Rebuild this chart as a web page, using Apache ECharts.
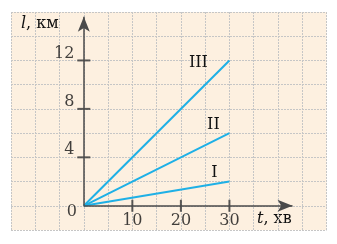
<!DOCTYPE html>
<html><head><meta charset="utf-8">
<script src="https://cdn.jsdelivr.net/npm/echarts@6/dist/echarts.min.js"></script>
<style>html,body{margin:0;padding:0;background:#fff}#c{width:337px;height:244px}</style>
</head><body><div id="c"></div>
<script>
// Data
const times = [0, 30];
const seriesNames = ['I', 'II', 'III'];
const distI = [0, 2];
const distII = [0, 6];
const distIII = [0, 12];
const xTicks = [10, 20, 30];
const yTicks = [4, 8, 12];
const xTickLabels = ['10', '20', '30'];
const yTickLabels = ['4', '8', '12'];
const axisX = [0, 43];
const axisY = [0, 15.6];

const serif = "'DejaVu Serif','Liberation Serif',serif";
const fs = 16;
const textCol = '#111111';
const lineCol = '#1fb0e6';
const axisCol = '#4a4a4a';

function lineSeries(name, vals, off) {
  return {
    type: 'line', name: name, data: times.map((t, i) => [t, vals[i]]),
    symbol: 'none', lineStyle: { color: lineCol, width: 2 }, z: 3,
    endLabel: { show: true, formatter: name, color: textCol, fontFamily: serif, fontSize: fs,
      align: 'center', verticalAlign: 'middle', distance: 0, offset: off }
  };
}

const chart = echarts.init(document.getElementById('c'));
chart.setOption({
  animation: false,
  backgroundColor: '#ffffff',
  grid: { left: 11, right: 10.5, top: 12, bottom: 14, show: true, backgroundColor: '#fdf0e0', borderWidth: 0 },
  xAxis: { type: 'value', min: -15, max: 50, interval: 5,
    axisLine: { show: false }, axisTick: { show: false }, axisLabel: { show: false },
    splitLine: { show: true, lineStyle: { color: '#c6c6c6', type: [2, 1], width: 1 } } },
  yAxis: { type: 'value', min: -2, max: 16, interval: 2,
    axisLine: { show: false }, axisTick: { show: false }, axisLabel: { show: false },
    splitLine: { show: true, lineStyle: { color: '#c6c6c6', type: [2, 1], width: 1 } } },
  series: [
    { type: 'line', data: [], silent: true,
      markLine: { silent: true, symbol: ['none', 'arrow'], symbolSize: [9, 15], label: { show: false },
        lineStyle: { color: axisCol, width: 1.5, type: 'solid' },
        data: [
          [{ coord: [axisX[0], 0] }, { coord: [axisX[1], 0] }],
          [{ coord: [0, axisY[0]] }, { coord: [0, axisY[1]] }]
        ] } },
    { type: 'scatter', symbol: 'rect', symbolSize: [2, 12], itemStyle: { color: '#333' }, z: 4,
      data: xTicks.map((t, i) => ({ value: [t, 0], label: { show: true, formatter: xTickLabels[i] } })),
      label: { position: 'bottom', distance: 1, color: textCol, fontFamily: serif, fontSize: fs } },
    { type: 'scatter', symbol: 'rect', symbolSize: [13, 2], itemStyle: { color: '#333' }, z: 4,
      data: yTicks.map((t, i) => ({ value: [0, t], label: { show: true, formatter: yTickLabels[i] } })),
      label: { position: 'left', distance: 3, offset: [0, -7], color: textCol, fontFamily: serif, fontSize: fs } },
    { type: 'scatter', symbolSize: 0, data: [[0, 0]],
      label: { show: true, formatter: '0', position: 'left', distance: 7, offset: [0, 6], color: textCol, fontFamily: serif, fontSize: fs } },
    lineSeries('I', distI, [-15, -9]),
    lineSeries('II', distII, [-16, -8]),
    lineSeries('III', distIII, [-31, 2])
  ],
  graphic: [
    { type: 'text', left: 21, top: 16, style: { text: '{i|l}, км', fill: textCol, font: fs + 'px ' + serif,
      rich: { i: { fontStyle: 'italic', fontFamily: serif, fontSize: fs, fill: textCol } } } },
    { type: 'text', left: 257, top: 211, style: { text: '{i|t}, хв', fill: textCol, font: fs + 'px ' + serif,
      rich: { i: { fontStyle: 'italic', fontFamily: serif, fontSize: fs, fill: textCol } } } }
  ]
});
</script></body></html>
